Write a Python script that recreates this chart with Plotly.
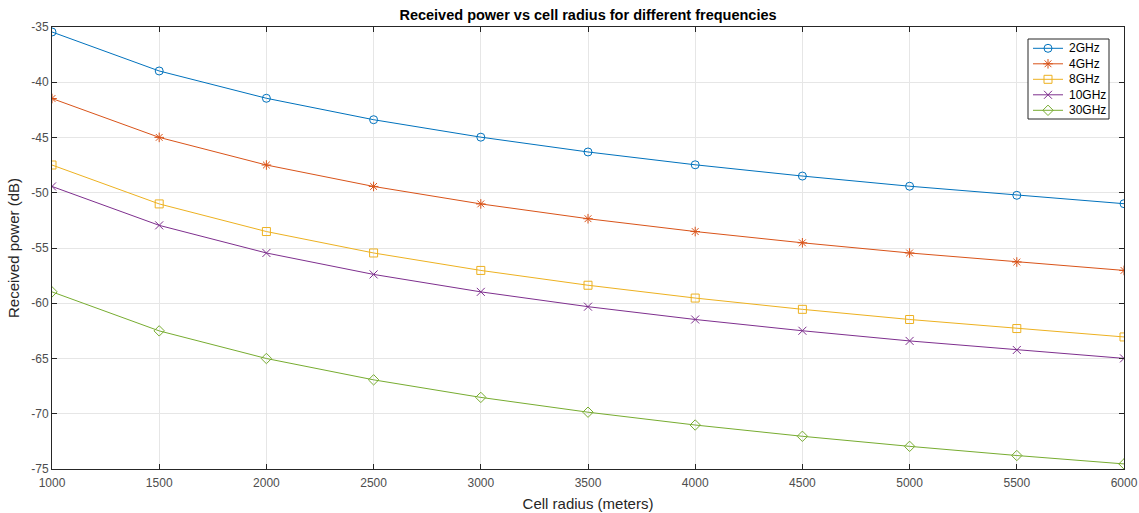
import plotly.graph_objects as go

radius = [1000, 1500, 2000, 2500, 3000, 3500, 4000, 4500, 5000, 5500, 6000]
p_2ghz = [-35.45, -38.98, -41.45, -43.39, -44.97, -46.31, -47.47, -48.49, -49.41, -50.23, -50.99]
p_4ghz = [-41.47, -44.99, -47.49, -49.43, -51.01, -52.35, -53.51, -54.53, -55.45, -56.27, -57.03]
p_8ghz = [-47.49, -51.01, -53.51, -55.45, -57.03, -58.37, -59.53, -60.55, -61.47, -62.29, -63.05]
p_10ghz = [-49.43, -52.95, -55.45, -57.39, -58.97, -60.31, -61.47, -62.49, -63.41, -64.23, -64.99]
p_30ghz = [-58.97, -62.50, -65.00, -66.93, -68.52, -69.86, -71.02, -72.04, -72.95, -73.78, -74.54]
y_ticks = [-75, -70, -65, -60, -55, -50, -45, -40, -35]
legend_names = ["2GHz", "4GHz", "8GHz", "10GHz", "30GHz"]

series_vals = [p_2ghz, p_4ghz, p_8ghz, p_10ghz, p_30ghz]
colors = ["#0072BD", "#D95319", "#EDB120", "#7E2F8E", "#77AC30"]
symbols = ["circle-open", "asterisk-open", "square-open", "x-thin-open", "diamond-open"]

FONT = "Liberation Sans, Arial, sans-serif"

# plot area geometry in page pixels
L, T, PW, PH = 52, 27, 1072, 442
W, H = 1139, 513

fig = go.Figure()
for name, vals, color, sym in zip(legend_names, series_vals, colors, symbols):
    fig.add_trace(go.Scatter(
        x=radius, y=vals, name=name, mode="lines+markers", showlegend=False,
        line=dict(color=color, width=1),
        marker=dict(symbol=sym, size=8, color=color, line=dict(color=color, width=1)),
    ))

# custom compact legend (MATLAB-style), drawn on an overlay axis in plot-fraction units
def fx(px):
    return (px - L) / PW

def fy(py):
    return 1 - (py - T) / PH

bx0, bx1, by0, by1 = fx(1028), fx(1109), fy(119), fy(39)
fig.add_trace(go.Scatter(
    x=[bx0, bx1, bx1, bx0, bx0], y=[by0, by0, by1, by1, by0], mode="lines",
    fill="toself", fillcolor="white", line=dict(color="#262626", width=1),
    xaxis="x2", yaxis="y2", hoverinfo="skip", showlegend=False,
))

row_y = [48.3, 63.8, 79.3, 94.8, 110.3]
annotations = []
for i, (name, color, sym) in enumerate(zip(legend_names, colors, symbols)):
    yy = fy(row_y[i])
    fig.add_trace(go.Scatter(
        x=[fx(1033), fx(1063)], y=[yy, yy], mode="lines", showlegend=False,
        xaxis="x2", yaxis="y2", hoverinfo="skip",
        line=dict(color=color, width=1),
    ))
    fig.add_trace(go.Scatter(
        x=[fx(1048)], y=[yy], mode="markers", showlegend=False,
        xaxis="x2", yaxis="y2", hoverinfo="skip",
        marker=dict(symbol=sym, size=8, color=color, line=dict(color=color, width=1)),
    ))
    annotations.append(dict(x=fx(1067), y=yy, xref="x2", yref="y2", text=name,
                            showarrow=False, xanchor="left", yanchor="middle",
                            font=dict(family=FONT, size=12, color="#000000")))

axis_common = dict(
    showline=True, linecolor="#262626", linewidth=1, mirror="ticks",
    ticks="inside", ticklen=5, tickcolor="#262626",
    showgrid=True, gridcolor="#e6e6e6", gridwidth=1, zeroline=False,
    automargin=False,
    tickfont=dict(family=FONT, size=12, color="#4d4d4d"),
)

fig.update_layout(
    width=W, height=H,
    margin=dict(l=L, r=W - L - PW, t=T, b=H - T - PH),
    paper_bgcolor="white", plot_bgcolor="white",
    title=dict(text="<b>Received power vs cell radius for different frequencies</b>",
               x=0.5, xref="paper", xanchor="center", y=1 - 15 / H, yanchor="middle",
               font=dict(family=FONT, size=14.5, color="#000000")),
    xaxis=dict(range=[1000, 6000], tickvals=radius, ticktext=[str(r) for r in radius],
               ticklabelstandoff=3,
               title=dict(text="Cell radius (meters)", standoff=9,
                          font=dict(family=FONT, size=15, color="#262626")),
               **axis_common),
    yaxis=dict(range=[-75, -35], tickvals=y_ticks, ticktext=[str(v) for v in y_ticks],
               title=dict(text="Received power (dB)", standoff=8,
                          font=dict(family=FONT, size=15, color="#262626")),
               **axis_common),
    xaxis2=dict(overlaying="x", range=[0, 1], visible=False, fixedrange=True),
    yaxis2=dict(overlaying="y", range=[0, 1], visible=False, fixedrange=True),
    annotations=annotations,
    showlegend=False,
)

fig.write_html("out.html", config={"displayModeBar": False},
               post_script="document.body.style.margin='0';document.body.style.overflow='hidden';")
